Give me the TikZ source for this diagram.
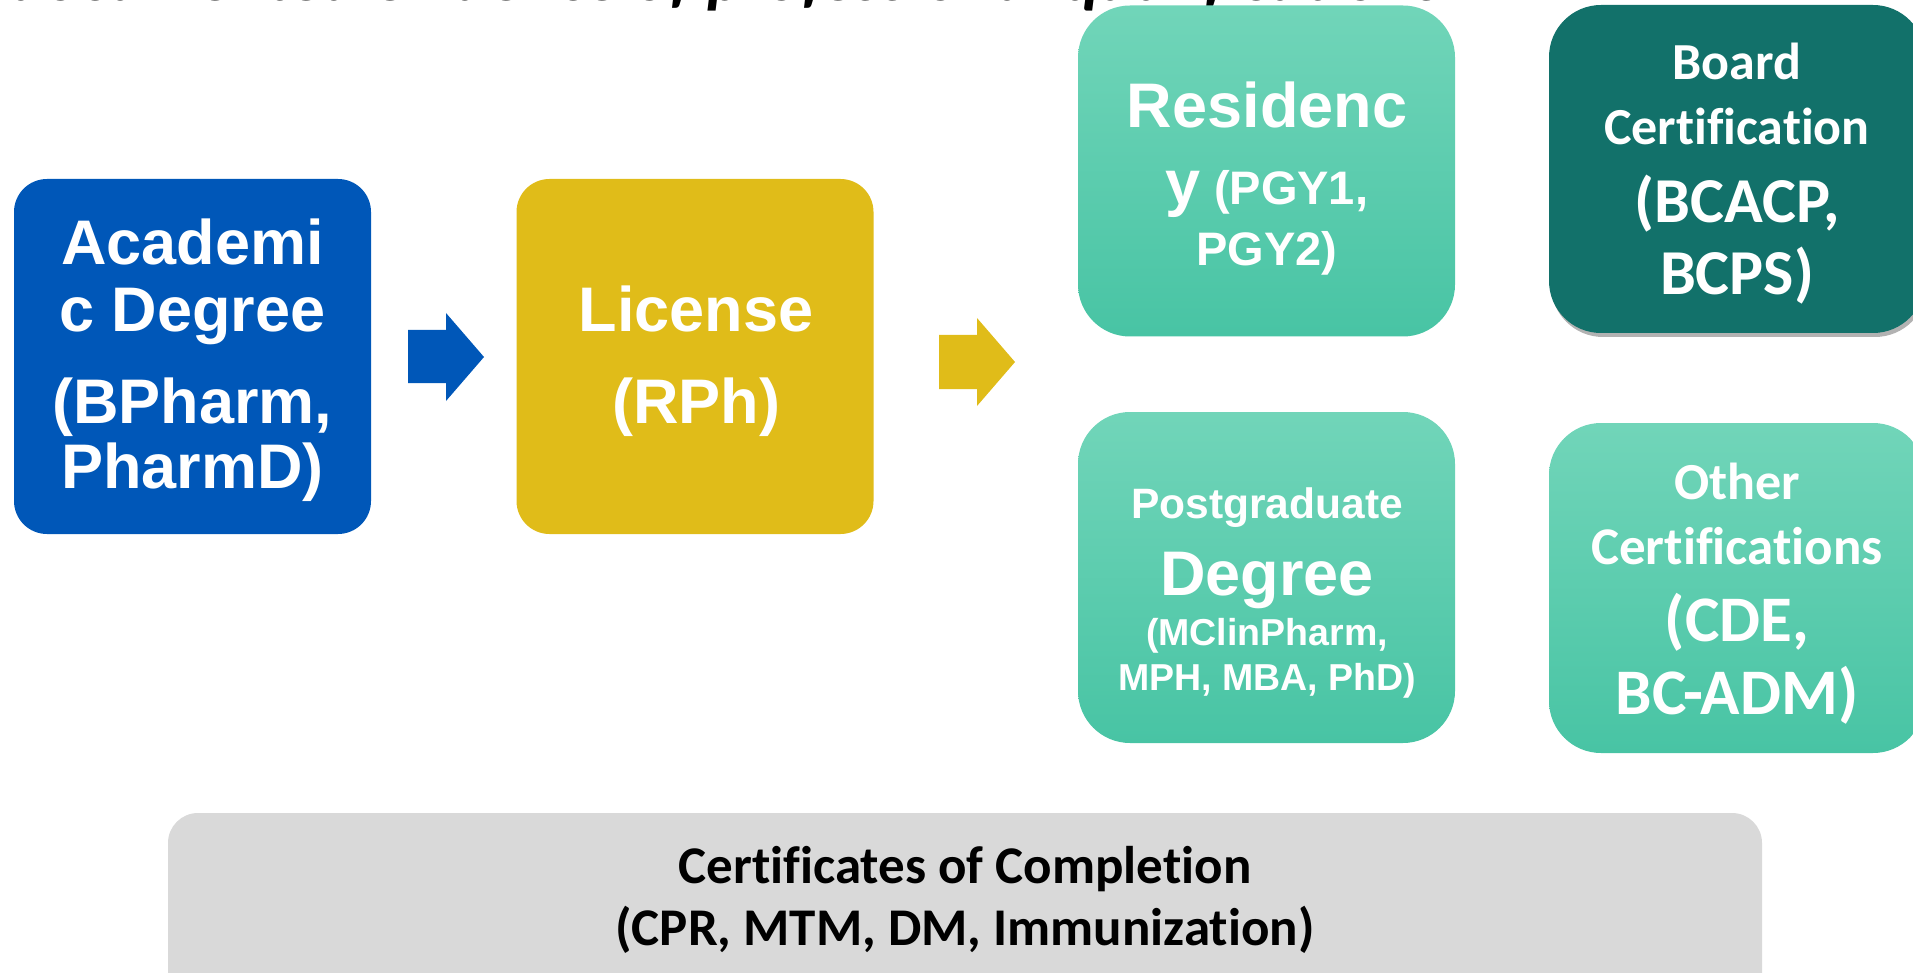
\documentclass[tikz,border=0pt]{standalone}
\usepackage{fontspec}
\setmainfont{Liberation Sans}
\newfontfamily\calfont{Carlito}[Ligatures=NoCommon]
\usetikzlibrary{shadows}
\definecolor{acadblue}{HTML}{0057B8}
\definecolor{licyellow}{HTML}{E0BC19}
\definecolor{tealtop}{HTML}{71D5B9}
\definecolor{tealbot}{HTML}{48C4A4}
\definecolor{darkteal}{HTML}{12716A}
\definecolor{certgrey}{HTML}{D9D9D9}
\newcommand\fsz[1]{\fontsize{#1}{#1}\selectfont}
\begin{document}
\begin{tikzpicture}[x=1pt,y=-1pt,
  box/.style={rectangle, rounded corners=#1, inner sep=0pt, draw=none},
  tealbox/.style={box=52pt, top color=tealtop, bottom color=tealbot, minimum width=377pt, minimum height=331pt},
  wt/.style={text=white, inner sep=0pt, anchor=base, font=\bfseries},
  ct/.style={text=white, inner sep=0pt, anchor=base, font=\calfont\bfseries},
  blockarrow/.style={draw=none}
]
\useasboundingbox (0,0) rectangle (1913,973);
\clip (0,0) rectangle (1913,973);

% title (cut off at the top)
\node[anchor=base west, inner sep=0pt, font=\calfont\bfseries\itshape\fsz{67.5}] (title) at (10,1) {documented evidence of professional qualifications};

% boxes
\node[box=33pt, fill=acadblue, minimum width=357pt, minimum height=355pt] (acad) at (192.5,356.5) {};
\node[box=33pt, fill=licyellow, minimum width=357pt, minimum height=355pt] (lic) at (695,356.5) {};
\node[tealbox] (res) at (1266.5,171) {};
\node[tealbox] (pg) at (1266.5,577.5) {};
\node[box=52pt, fill=darkteal, minimum width=376pt, minimum height=328pt,
      drop shadow={shadow xshift=2pt, shadow yshift=-4pt, opacity=0.3, fill=black}] (board) at (1737,169) {};
\node[tealbox, minimum width=376pt, minimum height=330pt] (other) at (1737,588) {};
\node[box=30pt, fill=certgrey, minimum width=1594pt, minimum height=200pt] (cert) at (965,913) {};

% block arrows
\fill[acadblue, blockarrow] (408,330) -- (446,330) -- (446,313) -- (484,357) -- (446,401) -- (446,383) -- (408,383) -- cycle;
\fill[licyellow, blockarrow] (939,335) -- (977,335) -- (977,318) -- (1015,362) -- (977,406) -- (977,389) -- (939,389) -- cycle;

% Academic Degree
\node[wt, font=\bfseries\fsz{63}] (acad1) at (192.5,265) {Academi};
\node[wt, font=\bfseries\fsz{63}] (acad2) at (192.5,331) {c Degree};
\node[wt, font=\bfseries\fsz{63}] (acad3) at (192.5,423) {(BPharm,};
\node[wt, font=\bfseries\fsz{63}] (acad4) at (192.5,488) {PharmD)};

% License
\node[wt, font=\bfseries\fsz{63}] (lic1) at (696,331) {License};
\node[wt, font=\bfseries\fsz{63}] (lic2) at (696,423) {(RPh)};

% Residency
\node[wt, font=\bfseries\fsz{63}] (res1) at (1267,128) {Residenc};
\node[wt] (res2) at (1267,205) {\fsz{63}y\fsz{47} (PGY1,};
\node[wt, font=\bfseries\fsz{47}] (res3) at (1267,266) {PGY2)};

% Postgraduate Degree
\node[wt, font=\bfseries\fsz{42.5}] (pg1) at (1267,518) {Postgraduate};
\node[wt, font=\bfseries\fsz{63}] (pg2) at (1267,595) {Degree};
\node[wt, font=\bfseries\fsz{37.5}] (pg3) at (1267,645) {(MClinPharm,};
\node[wt, font=\bfseries\fsz{37.5}] (pg4) at (1267,690) {MPH, MBA, PhD)};

% Board Certification
\node[ct, font=\calfont\bfseries\fsz{52}] (board1) at (1737,80) {Board};
\node[ct, font=\calfont\bfseries\fsz{52}] (board2) at (1737,145) {Certification};
\node[ct, font=\calfont\bfseries\fsz{64}] (board3) at (1737,223) {(BCACP,};
\node[ct, font=\calfont\bfseries\fsz{64}] (board4) at (1737,295) {BCPS)};

% Other Certifications
\node[ct, font=\calfont\bfseries\fsz{52}] (other1) at (1737,499) {Other};
\node[ct, font=\calfont\bfseries\fsz{53}] (other2) at (1737,564) {Certifications};
\node[ct, font=\calfont\bfseries\fsz{65}] (other3) at (1737,641) {(CDE,};
\node[ct, font=\calfont\bfseries\fsz{65}] (other4) at (1737,714) {BC-ADM)};

% Certificates of Completion
\node[inner sep=0pt, anchor=base, font=\calfont\bfseries\fsz{53}] (cert1) at (965,883) {Certificates of Completion};
\node[inner sep=0pt, anchor=base, font=\calfont\bfseries\fsz{53}] (cert2) at (965,945) {(CPR, MTM, DM, Immunization)};
\end{tikzpicture}
\end{document}
